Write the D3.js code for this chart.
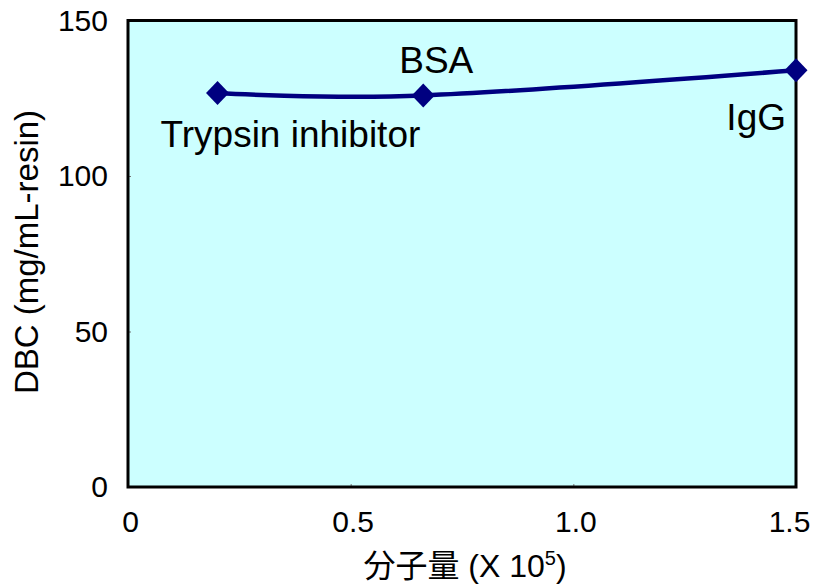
<!DOCTYPE html>
<html>
<head>
<meta charset="utf-8">
<script src="https://cdn.jsdelivr.net/npm/d3@7"></script>
<style>
  html, body { margin: 0; padding: 0; background: #ffffff; }
  svg { display: block; }
  text { font-family: "Liberation Sans", Arial, "Noto Sans CJK JP", sans-serif; fill: #000; }
</style>
</head>
<body>
<svg id="chart" width="818" height="587"></svg>
<script>
// Protein names, molecular weight (x 10^5) and dynamic binding capacity (mg/mL-resin)
const proteins = ["Trypsin inhibitor", "BSA", "IgG"];
const molWeight = [0.201, 0.663, 1.5];
const dbc = [126.7, 125.9, 134.0];

const xTicks = [0, 0.5, 1.0, 1.5];
const xTickLabels = ["0", "0.5", "1.0", "1.5"];
const yTicks = [0, 50, 100, 150];

const svg = d3.select("#chart");
const plot = { left: 128, right: 796, top: 20.5, bottom: 487 };

const x = d3.scaleLinear().domain([0, 1.5]).range([plot.left, plot.right]);
const y = d3.scaleLinear().domain([0, 150]).range([plot.bottom, plot.top]);

// plot area background
svg.append("rect")
  .attr("x", plot.left).attr("y", plot.top)
  .attr("width", plot.right - plot.left).attr("height", plot.bottom - plot.top)
  .attr("fill", "#ccffff");

// small inward tick marks
const xAxis = svg.append("g")
  .attr("transform", `translate(0,${plot.bottom})`)
  .call(d3.axisBottom(x).tickValues(xTicks).tickSize(-3).tickFormat((d, i) => xTickLabels[i]));
xAxis.select(".domain").remove();
xAxis.selectAll(".tick line").attr("stroke", "#777");
xAxis.selectAll(".tick text")
  .attr("font-size", 30).attr("y", 45).attr("dy", 0)
  .attr("font-family", "Liberation Sans, Arial, sans-serif")
  .attr("dx", (d, i) => i === xTicks.length - 1 ? -7 : 2);

const yAxis = svg.append("g")
  .attr("transform", `translate(${plot.left},0)`)
  .call(d3.axisLeft(y).tickValues(yTicks).tickSize(-3).tickFormat(d3.format("d")));
yAxis.select(".domain").remove();
yAxis.selectAll(".tick line").attr("stroke", "#777");
yAxis.selectAll(".tick text")
  .attr("font-size", 30).attr("x", -20)
  .attr("font-family", "Liberation Sans, Arial, sans-serif");

// frame
svg.append("rect")
  .attr("x", plot.left).attr("y", plot.top)
  .attr("width", plot.right - plot.left).attr("height", plot.bottom - plot.top)
  .attr("fill", "none").attr("stroke", "#000").attr("stroke-width", 3);

// smoothed data line
const pts = molWeight.map((m, i) => [x(m), y(dbc[i])]);
svg.append("path")
  .datum(pts)
  .attr("d", d3.line().curve(d3.curveCardinal.tension(0)))
  .attr("fill", "none")
  .attr("stroke", "#000080")
  .attr("stroke-width", 4.5)
  .attr("stroke-linejoin", "round");

// diamond markers
svg.selectAll("path.marker")
  .data(pts)
  .enter().append("path")
  .attr("class", "marker")
  .attr("transform", d => `translate(${d[0]},${d[1]})`)
  .attr("d", "M0,-12L11.5,0L0,12L-11.5,0Z")
  .attr("fill", "#000080");

// data labels
const labelOffsets = [
  { dx: -57, dy: 54, anchor: "start" },
  { dx: 13, dy: -22, anchor: "middle" },
  { dx: -10, dy: 60, anchor: "end" }
];
svg.selectAll("text.label")
  .data(proteins)
  .enter().append("text")
  .attr("class", "label")
  .attr("x", (d, i) => pts[i][0] + labelOffsets[i].dx)
  .attr("y", (d, i) => pts[i][1] + labelOffsets[i].dy)
  .attr("text-anchor", (d, i) => labelOffsets[i].anchor)
  .attr("font-size", 37)
  .text(d => d);

// axis titles
svg.append("text")
  .attr("transform", "translate(38,252) rotate(-90)")
  .attr("text-anchor", "middle")
  .attr("font-size", 33)
  .text("DBC (mg/mL-resin)");

const xt = svg.append("text")
  .attr("x", 465).attr("y", 577)
  .attr("text-anchor", "middle")
  .attr("font-size", 32);
xt.append("tspan").attr("font-family", "Noto Sans CJK JP, sans-serif").text("分子量");
xt.append("tspan").text(" (X 10");
xt.append("tspan").attr("font-size", 20).attr("dy", -12).text("5");
xt.append("tspan").attr("dy", 12).text(")");
</script>
</body>
</html>
